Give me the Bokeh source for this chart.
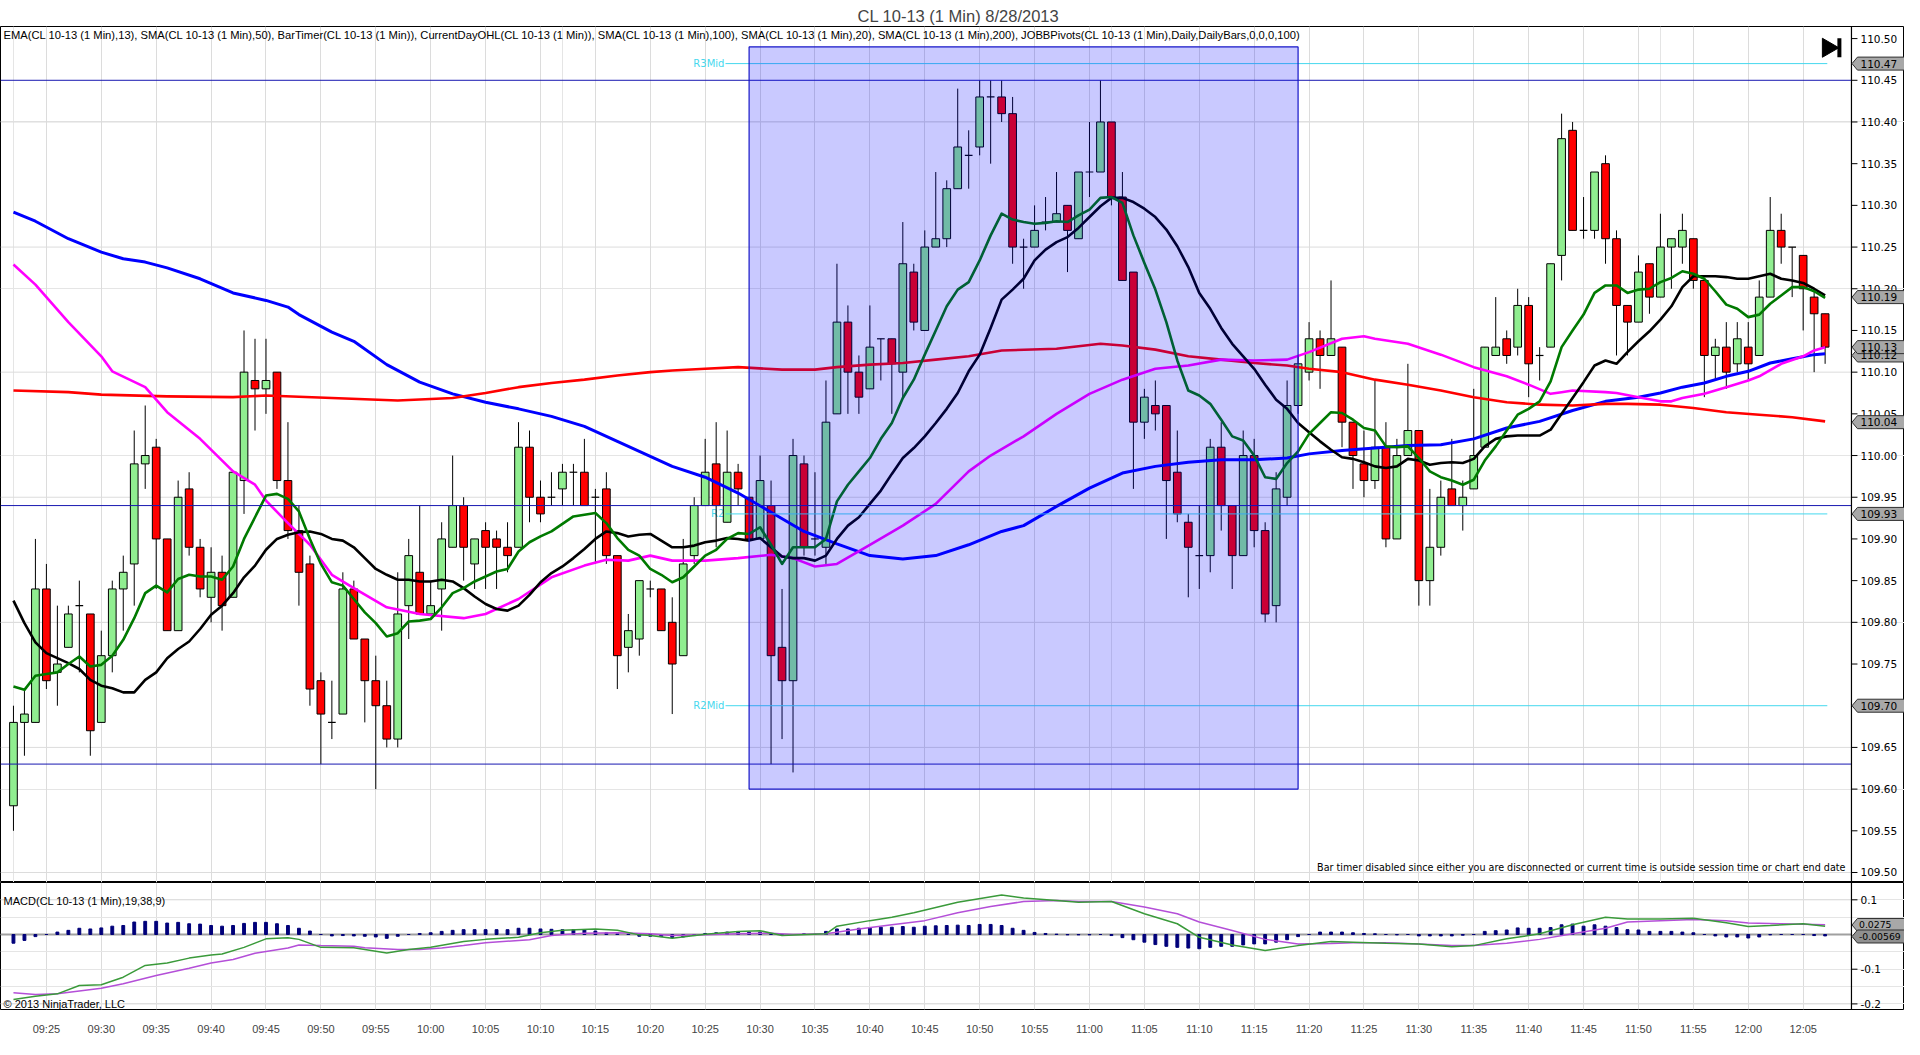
import numpy as np
from bokeh.plotting import figure
from bokeh.layouts import column
from bokeh.models import (Range1d, FixedTicker, Grid, BoxAnnotation, Label, ColumnDataSource)
from bokeh.core.properties import value
from bokeh.embed import file_html
from bokeh.resources import INLINE

FONT = "Liberation Sans"
WFONT = "DejaVu Sans"

# ---------------- data ----------------
session_start = (9, 22)   # first bar 09:22, 1-minute bars

opens = [109.58, 109.68, 109.68, 109.84, 109.74, 109.77, 109.82, 109.81, 109.68, 109.76,
         109.84, 109.87, 109.99, 110.01, 109.90, 109.79, 109.96, 109.89, 109.83, 109.86,
         109.83, 109.97, 110.09, 110.08, 110.10, 109.97, 109.91, 109.87, 109.73, 109.68,
         109.69, 109.84, 109.78, 109.73, 109.70, 109.66, 109.82, 109.86, 109.81, 109.84,
         109.89, 109.94, 109.87, 109.91, 109.90, 109.89, 109.89, 110.01, 109.95, 109.95,
         109.96, 109.98, 109.98, 109.95, 109.96, 109.88, 109.77, 109.78, 109.84, 109.84,
         109.80, 109.76, 109.88, 109.94, 109.99, 109.92, 109.98, 109.95, 109.90, 109.94,
         109.77, 109.73, 109.99, 109.90, 109.89, 110.05, 110.16, 110.10, 110.08, 110.14,
         110.14, 110.10, 110.22, 110.15, 110.25, 110.26, 110.32, 110.36, 110.37, 110.43,
         110.43, 110.41, 110.25, 110.25, 110.28, 110.28, 110.30, 110.26, 110.34, 110.34,
         110.40, 110.31, 110.22, 110.04, 110.06, 110.06, 109.98, 109.92, 109.88, 109.88,
         110.01, 109.94, 109.88, 110.00, 109.91, 109.82, 109.95, 110.06, 110.10, 110.14,
         110.12, 110.13, 110.04, 109.99, 109.97, 110.01, 109.90, 110.00, 110.03, 109.85,
         109.89, 109.96, 109.94, 109.96, 110.01, 110.12, 110.14, 110.13, 110.18, 110.12,
         110.13, 110.24, 110.39, 110.27, 110.27, 110.35, 110.26, 110.18, 110.16, 110.23,
         110.19, 110.25, 110.25, 110.26, 110.21, 110.12, 110.13, 110.11, 110.13, 110.12,
         110.19, 110.27, 110.25, 110.24, 110.19, 110.17]
highs = [109.70, 109.72, 109.90, 109.87, 109.82, 109.82, 109.85, 109.81, 109.79, 109.85,
         109.88, 110.03, 110.06, 110.02, 109.90, 109.97, 109.98, 109.90, 109.89, 109.88,
         109.98, 110.15, 110.14, 110.14, 110.10, 110.04, 109.94, 109.88, 109.74, 109.73,
         109.86, 109.85, 109.78, 109.76, 109.73, 109.86, 109.90, 109.94, 109.85, 109.92,
         110.00, 109.95, 109.90, 109.92, 109.91, 109.92, 110.04, 110.03, 109.97, 109.98,
         109.99, 109.99, 110.02, 109.96, 109.98, 109.88, 109.81, 109.85, 109.85, 109.84,
         109.83, 109.90, 109.95, 110.02, 110.04, 110.03, 109.99, 109.95, 110.00, 109.97,
         109.84, 110.02, 110.00, 109.98, 110.09, 110.23, 110.18, 110.12, 110.18, 110.14,
         110.14, 110.28, 110.23, 110.27, 110.34, 110.33, 110.44, 110.39, 110.45, 110.45,
         110.45, 110.43, 110.26, 110.30, 110.31, 110.34, 110.30, 110.34, 110.40, 110.45,
         110.40, 110.34, 110.22, 110.08, 110.09, 110.06, 110.03, 109.93, 109.94, 110.02,
         110.04, 109.94, 110.03, 110.02, 109.92, 109.98, 110.09, 110.12, 110.16, 110.15,
         110.21, 110.13, 110.04, 110.03, 110.09, 110.04, 110.02, 110.11, 110.03, 109.96,
         109.97, 110.02, 109.97, 110.08, 110.13, 110.19, 110.15, 110.20, 110.19, 110.13,
         110.23, 110.41, 110.40, 110.31, 110.34, 110.36, 110.27, 110.18, 110.24, 110.23,
         110.29, 110.26, 110.29, 110.26, 110.21, 110.14, 110.16, 110.16, 110.16, 110.21,
         110.31, 110.29, 110.25, 110.24, 110.20, 110.17]
lows = [109.55, 109.64, 109.68, 109.72, 109.70, 109.77, 109.74, 109.64, 109.68, 109.74,
        109.79, 109.82, 109.96, 109.84, 109.79, 109.79, 109.88, 109.83, 109.80, 109.79,
        109.83, 109.93, 110.03, 110.05, 109.96, 109.90, 109.82, 109.70, 109.63, 109.66,
        109.69, 109.78, 109.68, 109.60, 109.65, 109.65, 109.78, 109.81, 109.81, 109.79,
        109.89, 109.85, 109.84, 109.84, 109.84, 109.86, 109.89, 109.92, 109.92, 109.94,
        109.94, 109.94, 109.94, 109.87, 109.87, 109.72, 109.74, 109.76, 109.83, 109.79,
        109.69, 109.76, 109.87, 109.94, 109.89, 109.92, 109.94, 109.90, 109.90, 109.63,
        109.66, 109.62, 109.88, 109.88, 109.87, 110.05, 110.05, 110.05, 110.08, 110.09,
        110.05, 110.07, 110.15, 110.15, 110.25, 110.25, 110.32, 110.32, 110.36, 110.35,
        110.40, 110.23, 110.20, 110.25, 110.27, 110.28, 110.22, 110.26, 110.31, 110.34,
        110.30, 110.21, 109.96, 110.02, 110.03, 109.90, 109.92, 109.83, 109.84, 109.86,
        109.91, 109.84, 109.88, 109.89, 109.80, 109.80, 109.94, 110.05, 110.09, 110.08,
        110.12, 110.01, 109.96, 109.95, 109.96, 109.89, 109.90, 110.00, 109.82, 109.82,
        109.88, 109.94, 109.91, 109.96, 110.01, 110.12, 110.11, 110.12, 110.07, 110.09,
        110.13, 110.21, 110.27, 110.26, 110.26, 110.23, 110.12, 110.12, 110.16, 110.17,
        110.19, 110.20, 110.23, 110.20, 110.07, 110.09, 110.08, 110.10, 110.09, 110.12,
        110.19, 110.23, 110.19, 110.15, 110.10, 110.11]
closes = [109.68, 109.69, 109.84, 109.73, 109.75, 109.81, 109.82, 109.67, 109.76, 109.84,
          109.86, 109.99, 110.00, 109.90, 109.79, 109.95, 109.89, 109.84, 109.86, 109.82,
          109.98, 110.10, 110.08, 110.09, 109.97, 109.91, 109.86, 109.72, 109.69, 109.68,
          109.84, 109.78, 109.73, 109.70, 109.66, 109.81, 109.88, 109.81, 109.82, 109.90,
          109.94, 109.89, 109.90, 109.89, 109.89, 109.88, 110.01, 109.95, 109.93, 109.95,
          109.98, 109.98, 109.94, 109.95, 109.88, 109.76, 109.79, 109.85, 109.84, 109.79,
          109.75, 109.87, 109.94, 109.98, 109.94, 109.98, 109.96, 109.90, 109.97, 109.76,
          109.73, 110.00, 109.89, 109.90, 110.04, 110.16, 110.10, 110.07, 110.13, 110.14,
          110.11, 110.23, 110.16, 110.25, 110.26, 110.32, 110.37, 110.36, 110.43, 110.43,
          110.41, 110.25, 110.25, 110.27, 110.28, 110.29, 110.27, 110.34, 110.34, 110.40,
          110.31, 110.21, 110.04, 110.07, 110.05, 109.97, 109.93, 109.89, 109.88, 110.01,
          109.94, 109.88, 110.00, 109.91, 109.81, 109.96, 110.06, 110.11, 110.14, 110.12,
          110.14, 110.04, 110.00, 109.97, 110.01, 109.90, 110.00, 110.03, 109.85, 109.89,
          109.95, 109.94, 109.95, 110.00, 110.13, 110.13, 110.12, 110.18, 110.11, 110.12,
          110.23, 110.38, 110.27, 110.27, 110.34, 110.26, 110.18, 110.16, 110.22, 110.19,
          110.25, 110.26, 110.27, 110.21, 110.12, 110.13, 110.10, 110.14, 110.11, 110.19,
          110.27, 110.25, 110.25, 110.20, 110.17, 110.13]

ema13 = [109.723, 109.719, 109.736, 109.738, 109.740, 109.750, 109.759, 109.747, 109.749, 109.760,
         109.779, 109.805, 109.835, 109.844, 109.836, 109.852, 109.857, 109.855, 109.855, 109.851,
         109.867, 109.900, 109.926, 109.952, 109.954, 109.948, 109.933, 109.900, 109.870, 109.848,
         109.844, 109.828, 109.812, 109.799, 109.783, 109.787, 109.801, 109.802, 109.804, 109.818,
         109.835, 109.841, 109.849, 109.855, 109.861, 109.864, 109.885, 109.896, 109.903, 109.909,
         109.918, 109.927, 109.929, 109.931, 109.919, 109.901, 109.887, 109.880, 109.864, 109.857,
         109.848, 109.854, 109.867, 109.880, 109.887, 109.900, 109.907, 109.906, 109.914, 109.893,
         109.870, 109.890, 109.890, 109.890, 109.900, 109.945, 109.965, 109.981, 109.997, 110.020,
         110.039, 110.069, 110.091, 110.121, 110.150, 110.179, 110.199, 110.208, 110.234, 110.264,
         110.290, 110.283, 110.280, 110.278, 110.279, 110.281, 110.280, 110.288, 110.295, 110.309,
         110.310, 110.303, 110.264, 110.231, 110.199, 110.160, 110.114, 110.078, 110.072, 110.062,
         110.043, 110.023, 110.018, 110.000, 109.974, 109.972, 109.991, 110.005, 110.026, 110.039,
         110.052, 110.051, 110.043, 110.033, 110.030, 110.011, 110.010, 110.011, 109.997, 109.981,
         109.974, 109.970, 109.965, 109.971, 109.994, 110.011, 110.030, 110.049, 110.056, 110.065,
         110.089, 110.130, 110.150, 110.169, 110.195, 110.204, 110.204, 110.195, 110.199, 110.200,
         110.208, 110.213, 110.221, 110.218, 110.212, 110.197, 110.181, 110.176, 110.166, 110.169,
         110.182, 110.192, 110.202, 110.202, 110.197, 110.189]
sma20 = [109.826, 109.799, 109.776, 109.763, 109.757, 109.751, 109.744, 109.731, 109.724, 109.721,
         109.716, 109.716, 109.731, 109.740, 109.757, 109.768, 109.777, 109.792, 109.809, 109.820,
         109.835, 109.854, 109.868, 109.887, 109.900, 109.905, 109.908, 109.909, 109.906, 109.900,
         109.898, 109.890, 109.877, 109.864, 109.857, 109.851, 109.851, 109.849, 109.849, 109.851,
         109.849, 109.841, 109.831, 109.822, 109.816, 109.814, 109.820, 109.833, 109.848, 109.859,
         109.867, 109.877, 109.888, 109.900, 109.909, 109.907, 109.903, 109.905, 109.906, 109.898,
         109.890, 109.890, 109.892, 109.896, 109.898, 109.901, 109.900, 109.898, 109.901, 109.890,
         109.879, 109.877, 109.877, 109.874, 109.880, 109.900, 109.916, 109.926, 109.942, 109.958,
         109.978, 109.997, 110.009, 110.023, 110.039, 110.056, 110.075, 110.101, 110.121, 110.153,
         110.187, 110.199, 110.212, 110.234, 110.247, 110.256, 110.262, 110.273, 110.286, 110.299,
         110.309, 110.309, 110.304, 110.296, 110.286, 110.271, 110.251, 110.226, 110.195, 110.176,
         110.153, 110.134, 110.119, 110.104, 110.085, 110.067, 110.056, 110.039, 110.028, 110.017,
         110.007, 109.998, 109.996, 109.992, 109.987, 109.985, 109.987, 109.996, 109.994, 109.989,
         109.991, 109.992, 109.991, 109.996, 110.011, 110.020, 110.023, 110.024, 110.024, 110.024,
         110.031, 110.050, 110.069, 110.088, 110.108, 110.114, 110.110, 110.124, 110.137, 110.149,
         110.163, 110.179, 110.202, 110.215, 110.215, 110.215, 110.214, 110.212, 110.212, 110.215,
         110.218, 110.212, 110.210, 110.207, 110.200, 110.192]

sma50_bar = [0, 2, 5, 8, 9, 12, 14, 17, 20, 22, 23, 25, 27, 29, 31, 34, 37, 41, 43, 46, 49, 52, 54,
             56, 58, 60, 63, 66, 69, 71, 73, 75, 78, 81, 84, 87, 89, 92, 95, 98, 101, 104, 107, 110,
             113, 116, 118, 121, 123, 124, 127, 130, 133, 136, 138, 140, 141, 142, 145, 146, 148,
             150, 151, 152, 154, 156, 158, 159, 161, 163, 164, 165]
sma50 = [110.229, 110.205, 110.160, 110.119, 110.101, 110.082, 110.052, 110.020, 109.981, 109.965,
         109.946, 109.919, 109.893, 109.857, 109.841, 109.818, 109.810, 109.805, 109.810, 109.828,
         109.854, 109.868, 109.875, 109.874, 109.880, 109.874, 109.874, 109.877, 109.881, 109.877,
         109.867, 109.870, 109.893, 109.916, 109.942, 109.981, 110.000, 110.023, 110.050, 110.074,
         110.091, 110.104, 110.108, 110.115, 110.114, 110.115, 110.124, 110.140, 110.143, 110.140,
         110.134, 110.121, 110.106, 110.095, 110.085, 110.074, 110.076, 110.078, 110.076, 110.075,
         110.070, 110.065, 110.065, 110.069, 110.074, 110.082, 110.090, 110.095, 110.110, 110.119,
         110.126, 110.130]

sma100_bar = [0, 2, 5, 8, 10, 12, 14, 17, 20, 23, 25, 26, 29, 31, 34, 37, 40, 43, 46, 49, 52, 55,
              58, 60, 63, 66, 69, 72, 75, 78, 81, 84, 87, 90, 92, 95, 98, 101, 104, 107, 110, 113,
              116, 118, 121, 124, 127, 130, 133, 136, 139, 142, 145, 148, 150, 152, 154, 156, 158,
              160, 162, 164, 165]
sma100 = [110.292, 110.281, 110.260, 110.244, 110.236, 110.232, 110.225, 110.212, 110.195, 110.186,
          110.178, 110.169, 110.148, 110.137, 110.109, 110.088, 110.074, 110.064, 110.056, 110.047,
          110.035, 110.017, 109.999, 109.987, 109.974, 109.955, 109.932, 109.909, 109.894, 109.880,
          109.876, 109.880, 109.893, 109.909, 109.916, 109.939, 109.961, 109.979, 109.987, 109.992,
          109.995, 109.995, 109.997, 110.002, 110.006, 110.009, 110.012, 110.013, 110.020, 110.033,
          110.041, 110.054, 110.065, 110.070, 110.075, 110.082, 110.087, 110.095, 110.101, 110.111,
          110.116, 110.121, 110.122]

sma200_bar = [0, 5, 8, 14, 20, 23, 29, 35, 40, 43, 46, 49, 52, 55, 58, 60, 63, 66, 70, 73, 75, 78,
              81, 84, 87, 90, 95, 99, 101, 104, 107, 110, 113, 116, 118, 121, 124, 127, 130, 133,
              136, 139, 142, 145, 147, 150, 153, 156, 159, 162, 165]
sma200 = [110.078, 110.076, 110.073, 110.071, 110.070, 110.072, 110.069, 110.066, 110.069, 110.075,
          110.082, 110.087, 110.091, 110.096, 110.100, 110.102, 110.104, 110.106, 110.103, 110.103,
          110.106, 110.109, 110.111, 110.115, 110.119, 110.126, 110.128, 110.134, 110.132, 110.127,
          110.119, 110.115, 110.111, 110.108, 110.104, 110.100, 110.091, 110.085, 110.078, 110.070,
          110.064, 110.061, 110.060, 110.062, 110.062, 110.061, 110.057, 110.052, 110.049, 110.046,
          110.041]

day_levels = [110.45, 109.94, 109.63]          # CurrentDayOHL
pivot_names = ["R3Mid", "R2", "R2Mid"]
pivot_levels = [110.47, 109.93, 109.70]
zone_bars = [67, 117]
zone_prices = [109.60, 110.49]

macd_hist = [-0.025, -0.017, -0.006, 0.0, 0.007, 0.012, 0.018, 0.016, 0.019, 0.024,
             0.026, 0.036, 0.038, 0.038, 0.033, 0.035, 0.031, 0.030, 0.026, 0.024,
             0.026, 0.032, 0.035, 0.035, 0.031, 0.026, 0.018, 0.010, 0.0, -0.004,
             -0.003, -0.004, -0.005, -0.007, -0.011, -0.005, 0.0, 0.003, 0.005, 0.009,
             0.012, 0.014, 0.014, 0.014, 0.014, 0.014, 0.018, 0.018, 0.016, 0.015,
             0.014, 0.014, 0.013, 0.010, 0.005, 0.002, 0.001, -0.005, -0.005, -0.006,
             -0.009, -0.007, -0.003, 0.003, 0.005, 0.007, 0.007, 0.007, 0.007, 0.002,
             -0.001, 0.0, 0.002, 0.001, 0.009, 0.016, 0.016, 0.018, 0.020, 0.021,
             0.021, 0.023, 0.021, 0.024, 0.025, 0.026, 0.027, 0.026, 0.029, 0.029,
             0.026, 0.018, 0.012, 0.006, 0.003, 0.001, -0.001, -0.001, -0.001, 0.0,
             -0.003, -0.009, -0.015, -0.022, -0.029, -0.034, -0.037, -0.039, -0.041, -0.037,
             -0.034, -0.034, -0.030, -0.027, -0.027, -0.022, -0.015, -0.006, 0.0, 0.007,
             0.007, 0.007, 0.005, 0.003, 0.002, 0.0, -0.001, 0.0, -0.004, -0.004,
             -0.004, -0.004, -0.002, 0.0, 0.009, 0.011, 0.013, 0.019, 0.018, 0.018,
             0.020, 0.028, 0.030, 0.024, 0.028, 0.024, 0.020, 0.014, 0.013, 0.009,
             0.009, 0.009, 0.007, 0.005, 0.0, -0.004, -0.007, -0.007, -0.010, -0.007,
             -0.001, 0.0, 0.0, 0.0, -0.003, -0.004]
macd_bar = [0, 2, 4, 6, 8, 10, 12, 14, 16, 18, 19, 21, 23, 25, 26, 28, 31, 32, 34, 36, 38, 41, 43,
            46, 48, 50, 53, 55, 57, 58, 60, 63, 66, 68, 70, 74, 75, 78, 80, 82, 86, 90, 92, 95, 97,
            100, 103, 106, 108, 111, 114, 117, 120, 122, 125, 128, 131, 133, 136, 139, 142, 145,
            147, 150, 153, 156, 158, 160, 163, 165]
macd_line = [-0.1875, -0.178, -0.171, -0.147, -0.145, -0.123, -0.089, -0.082, -0.068, -0.059,
             -0.056, -0.037, -0.0125, -0.009, -0.014, -0.037, -0.038, -0.043, -0.053, -0.043,
             -0.037, -0.020, -0.014, -0.008, 0.005, 0.012, 0.016, 0.012, -0.001, -0.003,
             -0.011, 0.001, 0.009, 0.011, -0.003, 0.002, 0.024, 0.040, 0.050, 0.0625,
             0.093, 0.114, 0.105, 0.098, 0.093, 0.095, 0.060, 0.031, -0.008, -0.030,
             -0.046, -0.032, -0.020, -0.022, -0.025, -0.027, -0.035, -0.032, -0.0125, 0.002,
             0.028, 0.050, 0.045, 0.045, 0.047, 0.034, 0.023, 0.026, 0.031, 0.024]
signal_bar = [0, 2, 4, 8, 10, 13, 16, 18, 20, 22, 25, 26, 28, 31, 32, 35, 37, 39, 41, 43, 47, 49,
              52, 55, 58, 60, 63, 66, 69, 71, 74, 77, 80, 83, 86, 89, 92, 95, 97, 100, 103, 106,
              108, 111, 114, 117, 120, 122, 125, 128, 131, 133, 136, 139, 142, 145, 147, 150, 153,
              156, 158, 161, 165]
signal_line = [-0.168, -0.173, -0.171, -0.155, -0.142, -0.118, -0.097, -0.082, -0.072, -0.054,
               -0.039, -0.030, -0.032, -0.034, -0.038, -0.043, -0.043, -0.039, -0.032, -0.024,
               -0.015, -0.003, 0.004, 0.005, 0.002, -0.003, -0.001, 0.002, 0.004, 0.0,
               0.002, 0.016, 0.028, 0.040, 0.0625, 0.081, 0.095, 0.098, 0.095, 0.095,
               0.079, 0.060, 0.036, 0.0115, -0.014, -0.027, -0.026, -0.024, -0.024, -0.027,
               -0.032, -0.032, -0.025, -0.014, 0.002, 0.018, 0.036, 0.040, 0.043, 0.040,
               0.033, 0.031, 0.028]

price_tags = [110.47, 110.19, 110.12, 110.13, 110.04, 109.93, 109.70]
macd_tags = ["0.0275", "-0.00569"]
macd_tag_vals = [0.0275, -0.00569]
price_ticks = [109.50, 109.55, 109.60, 109.65, 109.70, 109.75, 109.80, 109.85, 109.90, 109.95,
               110.00, 110.05, 110.10, 110.15, 110.20, 110.25, 110.30, 110.35, 110.40, 110.45, 110.50]
price_grid = [109.50, 109.65, 109.80, 109.95, 110.10, 110.25, 110.40]
macd_ticks = [-0.2, -0.1, 0.1]
macd_tick_labels = ["-0.2", "-0.1", "0.1"]
macd_grid = [-0.2, 0.1]

title_text = "CL 10-13 (1 Min)  8/28/2013"
indicator_text = ("EMA(CL 10-13 (1 Min),13), SMA(CL 10-13 (1 Min),50), BarTimer(CL 10-13 (1 Min)), "
                  "CurrentDayOHL(CL 10-13 (1 Min)), SMA(CL 10-13 (1 Min),100), SMA(CL 10-13 (1 Min),20), "
                  "SMA(CL 10-13 (1 Min),200), JOBBPivots(CL 10-13 (1 Min),Daily,DailyBars,0,0,0,100)")
bartimer_text = ("Bar timer disabled since either you are disconnected or current time is outside "
                 "session time or chart end date")
macd_text = "MACD(CL 10-13 (1 Min),19,38,9)"
copyright_text = "\u00a9 2013 NinjaTrader, LLC"

# ---------------- derived / layout ----------------
n = len(opens)
bars = list(range(n))
mins0 = session_start[0] * 60 + session_start[1]
tick_bars = [i for i in bars if (mins0 + i) % 5 == 0]
tick_labels = {i: "%02d:%02d" % ((mins0 + i) // 60, (mins0 + i) % 60) for i in tick_bars}

body_top = [max(o, c) for o, c in zip(opens, closes)]
body_bot = [min(o, c) for o, c in zip(opens, closes)]
body_col = ["#90ee90" if c > o else "#ff0000" for o, c in zip(opens, closes)]
is_body = [o != c for o, c in zip(opens, closes)]

GRID = "#dcdcdc"
PX = 10.98                      # pixels per bar
X0, X1 = -1.18, 172.23          # visible bar range (frame spans whole width)
AX = 167.40                     # bar coordinate of the price-axis line
TICK = 6 / PX
LBL = 9 / PX
xr = Range1d(X0, X1)
FW = 1904


def add_tags(fig, vals, texts, px_per_unit, fills, size, text_dx):
    h = 13.0 / px_per_unit
    xs, ys = [], []
    for v, t in zip(vals, texts):
        w = (10 + 6.6 * len(t)) / PX
        xs.append([AX + 0.05, AX + TICK, AX + TICK + w, AX + TICK + w, AX + TICK])
        ys.append([v, v + h / 2, v + h / 2, v - h / 2, v - h / 2])
    fig.patches(xs, ys, fill_color=fills, line_color="#303030", line_width=1)
    fig.text(x=[AX + text_dx] * len(vals), y=vals, text=texts, text_baseline="middle",
             text_font=value(WFONT), text_font_size=size, text_color="black")


def add_axis(fig, ticks, labels, y0, y1):
    fig.segment(x0=[AX] * len(ticks), x1=[AX + TICK] * len(ticks), y0=ticks, y1=ticks,
                line_color="black", line_width=1)
    fig.segment(x0=[AX], x1=[AX], y0=[y0], y1=[y1], line_color="black", line_width=1.2)
    fig.text(x=[AX + LBL] * len(ticks), y=ticks, text=labels, text_baseline="middle",
             text_font=value(WFONT), text_font_size="10.5px", text_color="black")


# ---------------- price panel ----------------
PY0, PY1 = 109.488, 110.5145
p = figure(frame_width=FW, frame_height=856, x_range=xr, y_range=Range1d(PY0, PY1),
           output_backend="svg", toolbar_location=None, tools="",
           x_axis_location=None, y_axis_location=None,
           min_border_left=0, min_border_right=0, min_border_top=26, min_border_bottom=0,
           background_fill_color="white", border_fill_color="white")
p.title.text = title_text
p.title.align = "left"
p.title.offset = 857
p.title.text_font = FONT
p.title.text_font_size = "16.5px"
p.title.text_font_style = "normal"
p.title.standoff = 3
p.outline_line_color = "black"
p.outline_line_width = 1

p.add_layout(Grid(dimension=0, ticker=FixedTicker(ticks=tick_bars), grid_line_color=GRID))
p.segment(x0=[X0] * len(price_grid), x1=[AX] * len(price_grid), y0=price_grid, y1=price_grid,
          line_color=GRID, line_width=1)

# pivot labels (behind the candles)
p.text(x=[64.75] * len(pivot_names), y=pivot_levels, text=pivot_names, text_align="right",
       text_baseline="middle", text_color="#45d8ee", text_font=value(WFONT),
       text_font_size="10px")

# candles
src = ColumnDataSource(dict(x=[b for b, k in zip(bars, is_body) if k],
                            top=[t for t, k in zip(body_top, is_body) if k],
                            bot=[t for t, k in zip(body_bot, is_body) if k],
                            col=[t for t, k in zip(body_col, is_body) if k]))
p.segment(x0=bars, y0=highs, x1=bars, y1=lows, line_color="black", line_width=1)
p.vbar(x="x", top="top", bottom="bot", width=0.7, fill_color="col", line_color="black",
       line_width=1, source=src)
dj = [b for b, k in zip(bars, is_body) if not k]
dj_y = [o for o, k in zip(opens, is_body) if not k]
p.segment(x0=[b - 0.35 for b in dj], x1=[b + 0.35 for b in dj], y0=dj_y, y1=dj_y,
          line_color="black", line_width=1.2)

# moving averages
p.line(sma100_bar, sma100, line_color="#0000ff", line_width=3, line_join="round")
p.line(sma200_bar, sma200, line_color="#ff0000", line_width=2.6, line_join="round")
p.line(sma50_bar, sma50, line_color="#ff00ff", line_width=2.6, line_join="round")
p.line(bars, sma20, line_color="black", line_width=2.6, line_join="round")
p.line(bars, ema13, line_color="#007a00", line_width=2.6, line_join="round")

# day levels (to the axis)
p.segment(x0=[X0] * len(day_levels), x1=[AX] * len(day_levels), y0=day_levels, y1=day_levels,
          line_color="#1818b0", line_width=1)

# pivot lines
piv_end = n - 1 + 0.2
p.segment(x0=[64.85] * len(pivot_levels), x1=[piv_end] * len(pivot_levels),
          y0=pivot_levels, y1=pivot_levels, line_color="#45d8ee", line_width=1)

# axis, ticks, tags
add_axis(p, price_ticks, ["%.2f" % t for t in price_ticks], PY0, PY1)
add_tags(p, price_tags, ["%.2f" % v for v in price_tags], 833.9,
         ["#a8a8a8"] * len(price_tags), "10.5px", LBL)

# go-to-end icon
p.scatter(x=[165.25], y=[110.489], marker="triangle", size=19, angle=-np.pi / 2,
          fill_color="black", line_color="black")
p.rect(x=[166.3], y=[110.489], width=4, height=19, width_units="screen", height_units="screen",
       fill_color="black", line_color=None)

# zone box
p.add_layout(BoxAnnotation(left=zone_bars[0], right=zone_bars[1], bottom=zone_prices[0],
                           top=zone_prices[1], fill_color="#0000ff", fill_alpha=0.21,
                           line_color="#1515c8", line_width=1.2, line_alpha=1.0))

# texts
p.add_layout(Label(x=-0.9, y=110.504, text=indicator_text, text_baseline="middle",
                   text_font=FONT, text_font_size="11.2px", text_color="black"))
p.add_layout(Label(x=166.85, y=109.5065, text=bartimer_text, text_align="right",
                   text_baseline="middle", text_font=WFONT, text_font_size="9.6px",
                   text_color="black"))

# ---------------- MACD panel ----------------
MY0, MY1 = -0.2161, 0.1499
m = figure(frame_width=FW, frame_height=127, x_range=xr, y_range=Range1d(MY0, MY1),
           output_backend="svg", toolbar_location=None, tools="",
           y_axis_location=None,
           min_border_left=0, min_border_right=0, min_border_top=0, min_border_bottom=30,
           background_fill_color="white", border_fill_color="white")
m.outline_line_color = "black"
m.xgrid.grid_line_color = GRID

xa = m.xaxis[0]
xa.ticker = FixedTicker(ticks=tick_bars)
xa.major_label_overrides = tick_labels
xa.major_label_text_font = FONT
xa.major_label_text_font_size = "11px"
xa.major_tick_line_color = None
xa.minor_tick_line_color = None
xa.axis_line_color = None
xa.major_label_standoff = 7

m.segment(x0=[X0] * len(macd_grid), x1=[AX] * len(macd_grid), y0=macd_grid, y1=macd_grid,
          line_color=GRID, line_width=1)
m.segment(x0=[X0], x1=[AX], y0=[0], y1=[0], line_color="#a0a0a0", line_width=2)
m.vbar(x=bars, top=macd_hist, bottom=0, width=0.26, fill_color="#00007a", line_color="#00007a")
m.line(signal_bar, signal_line, line_color="#b44fd8", line_width=1.5)
m.line(macd_bar, macd_line, line_color="#3a9a3a", line_width=1.5)

add_axis(m, macd_ticks, macd_tick_labels, MY0, MY1)
add_tags(m, macd_tag_vals, macd_tags, 347.0, ["#a8a8a8", "#909090"], "9.3px", 7.5 / PX)

m.add_layout(Label(x=-0.9, y=0.098, text=macd_text, text_baseline="middle",
                   text_font=FONT, text_font_size="11px", text_color="black"))
m.add_layout(Label(x=-0.9, y=-0.199, text=copyright_text, text_baseline="middle",
                   text_font=FONT, text_font_size="11px", text_color="black"))

layout = column(p, m, spacing=0)
open("out.html", "w").write(file_html(layout, INLINE))
